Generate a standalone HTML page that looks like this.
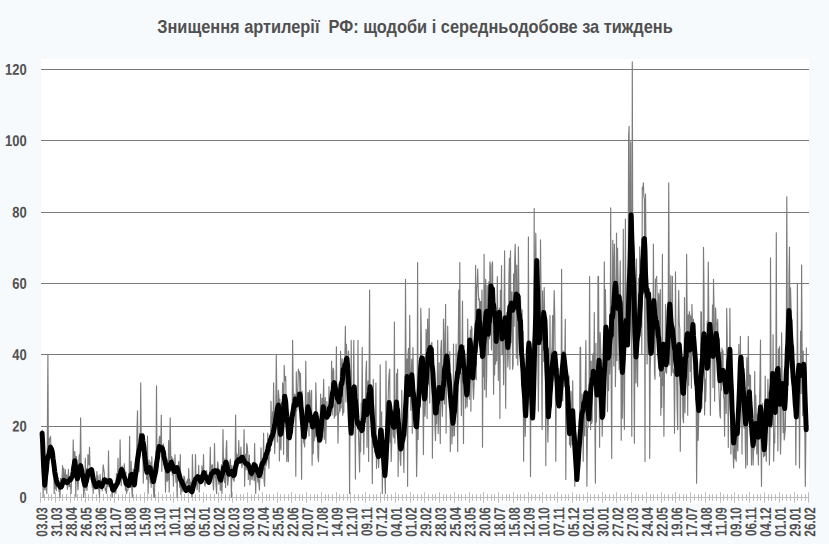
<!DOCTYPE html><html><head><meta charset="utf-8"><title>chart</title><style>html,body{margin:0;padding:0;background:#f7fafd;overflow:hidden}svg{display:block}text{font-family:"Liberation Sans",sans-serif;font-weight:bold;fill:#505050}</style></head><body>
<svg width="829" height="544" viewBox="0 0 829 544">
<rect x="0" y="0" width="829" height="544" fill="#f7fafd"/>
<rect x="41" y="59" width="768" height="444.5" fill="#ffffff"/>
<line x1="41" x2="809" y1="426.5" y2="426.5" stroke="#7a7a7a" stroke-width="1"/>
<line x1="41" x2="809" y1="354.5" y2="354.5" stroke="#7a7a7a" stroke-width="1"/>
<line x1="41" x2="809" y1="283.5" y2="283.5" stroke="#7a7a7a" stroke-width="1"/>
<line x1="41" x2="809" y1="212.5" y2="212.5" stroke="#7a7a7a" stroke-width="1"/>
<line x1="41" x2="809" y1="140.5" y2="140.5" stroke="#7a7a7a" stroke-width="1"/>
<line x1="41" x2="809" y1="69.5" y2="69.5" stroke="#7a7a7a" stroke-width="1"/>
<line x1="41" x2="809" y1="497.5" y2="497.5" stroke="#bcbcbc" stroke-width="1"/>
<path d="M40.50 492.3V502.6M44.50 494.2V500.8M48.50 494.2V500.8M51.50 494.2V500.8M55.50 492.3V502.6M59.50 494.2V500.8M62.50 494.2V500.8M66.50 494.2V500.8M70.50 492.3V502.6M74.50 494.2V500.8M77.50 494.2V500.8M81.50 494.2V500.8M85.50 492.3V502.6M88.50 494.2V500.8M92.50 494.2V500.8M96.50 494.2V500.8M99.50 492.3V502.6M103.50 494.2V500.8M107.50 494.2V500.8M110.50 494.2V500.8M114.50 492.3V502.6M118.50 494.2V500.8M122.50 494.2V500.8M125.50 494.2V500.8M129.50 492.3V502.6M133.50 494.2V500.8M136.50 494.2V500.8M140.50 494.2V500.8M144.50 492.3V502.6M147.50 494.2V500.8M151.50 494.2V500.8M155.50 494.2V500.8M158.50 492.3V502.6M162.50 494.2V500.8M166.50 494.2V500.8M170.50 494.2V500.8M173.50 492.3V502.6M177.50 494.2V500.8M181.50 494.2V500.8M184.50 494.2V500.8M188.50 492.3V502.6M192.50 494.2V500.8M195.50 494.2V500.8M199.50 494.2V500.8M203.50 492.3V502.6M206.50 494.2V500.8M210.50 494.2V500.8M214.50 494.2V500.8M218.50 492.3V502.6M221.50 494.2V500.8M225.50 494.2V500.8M229.50 494.2V500.8M232.50 492.3V502.6M236.50 494.2V500.8M240.50 494.2V500.8M243.50 494.2V500.8M247.50 492.3V502.6M251.50 494.2V500.8M254.50 494.2V500.8M258.50 494.2V500.8M262.50 492.3V502.6M266.50 494.2V500.8M269.50 494.2V500.8M273.50 494.2V500.8M277.50 492.3V502.6M280.50 494.2V500.8M284.50 494.2V500.8M288.50 494.2V500.8M291.50 492.3V502.6M295.50 494.2V500.8M299.50 494.2V500.8M302.50 494.2V500.8M306.50 492.3V502.6M310.50 494.2V500.8M314.50 494.2V500.8M317.50 494.2V500.8M321.50 492.3V502.6M325.50 494.2V500.8M328.50 494.2V500.8M332.50 494.2V500.8M336.50 492.3V502.6M339.50 494.2V500.8M343.50 494.2V500.8M347.50 494.2V500.8M350.50 492.3V502.6M354.50 494.2V500.8M358.50 494.2V500.8M362.50 494.2V500.8M365.50 492.3V502.6M369.50 494.2V500.8M373.50 494.2V500.8M376.50 494.2V500.8M380.50 492.3V502.6M384.50 494.2V500.8M387.50 494.2V500.8M391.50 494.2V500.8M395.50 492.3V502.6M398.50 494.2V500.8M402.50 494.2V500.8M406.50 494.2V500.8M410.50 492.3V502.6M413.50 494.2V500.8M417.50 494.2V500.8M421.50 494.2V500.8M424.50 492.3V502.6M428.50 494.2V500.8M432.50 494.2V500.8M435.50 494.2V500.8M439.50 492.3V502.6M443.50 494.2V500.8M446.50 494.2V500.8M450.50 494.2V500.8M454.50 492.3V502.6M458.50 494.2V500.8M461.50 494.2V500.8M465.50 494.2V500.8M469.50 492.3V502.6M472.50 494.2V500.8M476.50 494.2V500.8M480.50 494.2V500.8M483.50 492.3V502.6M487.50 494.2V500.8M491.50 494.2V500.8M494.50 494.2V500.8M498.50 492.3V502.6M502.50 494.2V500.8M506.50 494.2V500.8M509.50 494.2V500.8M513.50 492.3V502.6M517.50 494.2V500.8M520.50 494.2V500.8M524.50 494.2V500.8M528.50 492.3V502.6M531.50 494.2V500.8M535.50 494.2V500.8M539.50 494.2V500.8M542.50 492.3V502.6M546.50 494.2V500.8M550.50 494.2V500.8M554.50 494.2V500.8M557.50 492.3V502.6M561.50 494.2V500.8M565.50 494.2V500.8M568.50 494.2V500.8M572.50 492.3V502.6M576.50 494.2V500.8M579.50 494.2V500.8M583.50 494.2V500.8M587.50 492.3V502.6M590.50 494.2V500.8M594.50 494.2V500.8M598.50 494.2V500.8M602.50 492.3V502.6M605.50 494.2V500.8M609.50 494.2V500.8M613.50 494.2V500.8M616.50 492.3V502.6M620.50 494.2V500.8M624.50 494.2V500.8M627.50 494.2V500.8M631.50 492.3V502.6M635.50 494.2V500.8M638.50 494.2V500.8M642.50 494.2V500.8M646.50 492.3V502.6M650.50 494.2V500.8M653.50 494.2V500.8M657.50 494.2V500.8M661.50 492.3V502.6M664.50 494.2V500.8M668.50 494.2V500.8M672.50 494.2V500.8M675.50 492.3V502.6M679.50 494.2V500.8M683.50 494.2V500.8M686.50 494.2V500.8M690.50 492.3V502.6M694.50 494.2V500.8M698.50 494.2V500.8M701.50 494.2V500.8M705.50 492.3V502.6M709.50 494.2V500.8M712.50 494.2V500.8M716.50 494.2V500.8M720.50 492.3V502.6M723.50 494.2V500.8M727.50 494.2V500.8M731.50 494.2V500.8M734.50 492.3V502.6M738.50 494.2V500.8M742.50 494.2V500.8M746.50 494.2V500.8M749.50 492.3V502.6M753.50 494.2V500.8M757.50 494.2V500.8M760.50 494.2V500.8M764.50 492.3V502.6M768.50 494.2V500.8M771.50 494.2V500.8M775.50 494.2V500.8M779.50 492.3V502.6M782.50 494.2V500.8M786.50 494.2V500.8M790.50 494.2V500.8M794.50 492.3V502.6M797.50 494.2V500.8M801.50 494.2V500.8M805.50 494.2V500.8M808.50 492.3V502.6" stroke="#bcbcbc" stroke-width="1" fill="none"/>
<polyline points="42.1,429.6 42.6,438.8 43.1,497.2 43.6,463.4 44.2,486.9 44.7,489.4 45.2,490.1 45.7,477.8 46.3,474.1 46.8,493.5 47.3,445.0 47.9,354.4 48.4,460.5 48.9,458.8 49.4,438.5 50.0,438.6 50.5,436.2 51.0,447.5 51.5,452.7 52.1,451.4 52.6,460.3 53.1,458.7 53.7,465.8 54.2,493.5 54.7,468.0 55.2,488.5 55.8,482.1 56.3,490.5 56.8,476.1 57.4,476.7 57.9,481.0 58.4,483.8 58.9,491.3 59.5,488.4 60.0,497.2 60.5,478.4 61.0,482.2 61.6,484.4 62.1,476.9 62.6,465.6 63.2,485.7 63.7,468.2 64.2,481.1 64.7,484.7 65.3,469.5 65.8,478.9 66.3,481.2 66.8,474.8 67.4,489.1 67.9,481.0 68.4,469.2 69.0,486.6 69.5,486.6 70.0,484.4 70.5,485.3 71.1,493.5 71.6,478.4 72.1,469.9 72.6,481.0 73.2,439.9 73.7,463.7 74.2,452.4 74.8,451.5 75.3,459.1 75.8,496.5 76.3,456.4 76.9,461.5 77.4,480.9 77.9,490.0 78.5,479.7 79.0,457.3 79.5,454.3 80.0,470.8 80.6,417.9 81.1,462.6 81.6,478.8 82.1,482.6 82.7,476.4 83.2,479.8 83.7,497.2 84.3,489.0 84.8,490.6 85.3,458.2 85.8,488.0 86.4,468.5 86.9,490.4 87.4,485.1 87.9,454.6 88.5,457.0 89.0,464.8 89.5,447.2 90.1,470.0 90.6,471.4 91.1,479.6 91.6,470.6 92.2,487.2 92.7,480.5 93.2,493.5 93.7,484.1 94.3,488.7 94.8,485.0 95.3,489.3 95.9,480.2 96.4,482.6 96.9,471.5 97.4,485.1 98.0,475.9 98.5,488.9 99.0,489.9 99.5,497.2 100.1,474.3 100.6,484.0 101.1,484.8 101.7,483.8 102.2,490.8 102.7,474.4 103.2,464.9 103.8,469.5 104.3,472.7 104.8,485.7 105.4,490.8 105.9,488.7 106.4,493.5 106.9,482.9 107.5,483.0 108.0,486.7 108.5,450.9 109.0,483.4 109.6,485.9 110.1,480.4 110.6,489.4 111.2,489.4 111.7,490.1 112.2,497.2 112.7,485.7 113.3,486.7 113.8,489.1 114.3,491.4 114.8,484.4 115.4,490.2 115.9,493.5 116.4,474.0 117.0,473.6 117.5,485.3 118.0,458.2 118.5,481.6 119.1,473.6 119.6,481.9 120.1,439.9 120.6,467.4 121.2,485.7 121.7,473.0 122.2,466.0 122.8,471.6 123.3,471.8 123.8,474.7 124.3,463.7 124.9,474.4 125.4,490.2 125.9,472.0 126.5,493.5 127.0,491.1 127.5,490.1 128.0,490.0 128.6,473.5 129.1,481.4 129.6,436.2 130.1,485.7 130.7,487.4 131.2,461.2 131.7,485.1 132.3,497.2 132.8,478.6 133.3,468.8 133.8,483.9 134.4,482.9 134.9,479.0 135.4,478.2 135.9,479.8 136.5,469.7 137.0,428.8 137.5,410.9 138.1,467.2 138.6,450.3 139.1,471.8 139.6,433.4 140.2,456.8 140.7,382.9 141.2,440.8 141.7,446.8 142.3,440.3 142.8,449.8 143.3,483.2 143.9,440.2 144.4,459.1 144.9,446.5 145.4,451.4 146.0,451.9 146.5,478.7 147.0,479.6 147.5,436.2 148.1,493.5 148.6,470.1 149.1,460.0 149.7,475.5 150.2,483.1 150.7,462.2 151.2,487.2 151.8,456.8 152.3,475.4 152.8,466.6 153.4,488.6 153.9,496.5 154.4,497.2 154.9,475.6 155.5,471.4 156.0,467.6 156.5,385.9 157.0,467.6 157.6,467.4 158.1,466.7 158.6,448.1 159.2,439.2 159.7,436.2 160.2,449.3 160.7,449.8 161.3,415.0 161.8,471.5 162.3,445.5 162.8,446.5 163.4,444.1 163.9,464.5 164.4,461.5 165.0,455.0 165.5,492.1 166.0,472.6 166.5,467.8 167.1,481.5 167.6,470.7 168.1,479.9 168.6,440.6 169.2,492.1 169.7,459.9 170.2,417.9 170.8,458.0 171.3,459.3 171.8,456.7 172.3,475.1 172.9,458.7 173.4,486.2 173.9,468.6 174.5,471.0 175.0,454.6 175.5,472.1 176.0,482.3 176.6,469.0 177.1,497.2 177.6,478.6 178.1,469.5 178.7,461.6 179.2,470.1 179.7,487.2 180.3,454.6 180.8,494.3 181.3,490.5 181.8,489.6 182.4,483.3 182.9,491.8 183.4,486.9 183.9,476.0 184.5,477.3 185.0,482.6 185.5,491.2 186.1,485.3 186.6,481.7 187.1,482.4 187.6,479.3 188.2,487.4 188.7,468.5 189.2,491.4 189.7,479.1 190.3,489.7 190.8,484.4 191.3,482.2 191.9,497.2 192.4,454.6 192.9,478.1 193.4,477.8 194.0,486.5 194.5,477.5 195.0,487.3 195.5,454.6 196.1,484.9 196.6,481.1 197.1,489.8 197.7,482.9 198.2,481.5 198.7,465.3 199.2,492.1 199.8,482.8 200.3,478.2 200.8,477.2 201.4,482.6 201.9,465.9 202.4,481.6 202.9,481.9 203.5,454.6 204.0,479.4 204.5,483.5 205.0,486.2 205.6,481.7 206.1,482.9 206.6,470.4 207.2,478.9 207.7,483.3 208.2,482.9 208.7,482.0 209.3,479.3 209.8,469.9 210.3,447.2 210.8,482.5 211.4,475.2 211.9,465.0 212.4,464.8 213.0,481.7 213.5,489.9 214.0,477.7 214.5,443.5 215.1,477.1 215.6,475.7 216.1,486.2 216.6,493.5 217.2,470.2 217.7,461.9 218.2,466.4 218.8,484.2 219.3,479.5 219.8,471.8 220.3,490.3 220.9,490.0 221.4,464.6 221.9,493.5 222.5,475.8 223.0,429.6 223.5,464.9 224.0,458.2 224.6,482.4 225.1,474.0 225.6,487.6 226.1,450.0 226.7,440.6 227.2,476.6 227.7,485.3 228.3,479.9 228.8,466.2 229.3,476.2 229.8,461.8 230.4,459.0 230.9,471.7 231.4,497.2 231.9,465.5 232.5,472.3 233.0,478.9 233.5,479.4 234.1,481.3 234.6,474.6 235.1,466.9 235.6,415.0 236.2,464.8 236.7,453.9 237.2,455.4 237.7,461.2 238.3,460.2 238.8,440.6 239.3,461.2 239.9,462.5 240.4,458.7 240.9,447.0 241.4,462.3 242.0,467.8 242.5,461.8 243.0,456.7 243.5,464.0 244.1,429.6 244.6,486.2 245.1,463.3 245.7,454.2 246.2,469.8 246.7,443.5 247.2,445.8 247.8,453.7 248.3,479.4 248.8,462.7 249.4,455.0 249.9,484.7 250.4,475.5 250.9,476.8 251.5,475.3 252.0,479.8 252.5,476.8 253.0,468.4 253.6,472.4 254.1,480.5 254.6,443.5 255.2,475.5 255.7,493.5 256.2,467.2 256.7,476.7 257.3,468.5 257.8,482.1 258.3,478.6 258.8,482.4 259.4,489.9 259.9,477.5 260.4,477.1 261.0,447.9 261.5,467.1 262.0,478.5 262.5,459.8 263.1,470.3 263.6,433.2 264.1,481.5 264.6,486.2 265.2,460.4 265.7,460.4 266.2,465.3 266.8,461.7 267.3,451.4 267.8,433.2 268.3,454.1 268.9,468.2 269.4,445.0 269.9,439.4 270.5,450.9 271.0,401.3 271.5,428.8 272.0,436.7 272.6,411.9 273.1,425.6 273.6,382.9 274.1,416.7 274.7,453.5 275.2,434.6 275.7,419.3 276.3,355.0 276.8,393.2 277.3,442.0 277.8,416.0 278.4,390.3 278.9,396.9 279.4,460.9 279.9,399.0 280.5,445.8 281.0,450.0 281.5,402.5 282.1,423.4 282.6,382.9 283.1,386.7 283.6,454.3 284.2,365.3 284.7,380.6 285.2,378.4 285.7,376.3 286.3,415.7 286.8,461.6 287.3,434.3 287.9,452.9 288.4,461.6 288.9,416.7 289.4,430.4 290.0,417.5 290.5,412.5 291.0,425.4 291.5,423.3 292.1,429.0 292.6,340.3 293.1,385.8 293.7,408.1 294.2,400.5 294.7,394.1 295.2,397.9 295.8,476.3 296.3,371.9 296.8,410.8 297.4,401.3 297.9,385.9 298.4,369.0 298.9,373.1 299.5,371.6 300.0,396.2 300.5,373.6 301.0,411.3 301.6,479.3 302.1,391.0 302.6,419.4 303.2,424.5 303.7,442.7 304.2,443.3 304.7,446.9 305.3,413.0 305.8,361.2 306.3,418.5 306.8,430.8 307.4,418.1 307.9,392.4 308.4,393.2 309.0,435.9 309.5,390.3 310.0,393.8 310.5,416.1 311.1,411.0 311.6,390.3 312.1,465.3 312.6,419.4 313.2,453.7 313.7,415.9 314.2,440.8 314.8,418.9 315.3,437.1 315.8,382.9 316.3,401.5 316.9,425.4 317.4,435.6 317.9,456.5 318.5,461.6 319.0,438.5 319.5,439.9 320.0,439.3 320.6,394.0 321.1,424.9 321.6,432.1 322.1,398.3 322.7,437.4 323.2,398.7 323.7,379.3 324.3,439.4 324.8,407.1 325.3,397.6 325.8,443.2 326.4,415.3 326.9,401.5 327.4,415.6 327.9,414.4 328.5,414.2 329.0,386.6 329.5,415.6 330.1,414.2 330.6,407.1 331.1,411.2 331.6,361.2 332.2,414.9 332.7,373.9 333.2,368.2 333.7,370.3 334.3,418.2 334.8,405.0 335.3,415.9 335.9,389.0 336.4,346.9 336.9,414.9 337.4,394.9 338.0,443.2 338.5,412.8 339.0,413.2 339.5,381.3 340.1,411.0 340.6,351.3 341.1,407.9 341.7,364.5 342.2,358.7 342.7,415.3 343.2,411.3 343.8,412.2 344.3,363.1 344.8,363.0 345.4,326.2 345.9,402.1 346.4,344.2 346.9,357.0 347.5,356.7 348.0,370.9 348.5,351.0 349.0,390.7 349.6,493.5 350.1,413.6 350.6,433.1 351.2,340.3 351.7,419.3 352.2,395.8 352.7,409.1 353.3,384.1 353.8,340.3 354.3,410.1 354.8,391.7 355.4,479.1 355.9,389.3 356.4,390.5 357.0,409.0 357.5,427.2 358.0,340.3 358.5,435.1 359.1,454.5 359.6,472.0 360.1,428.4 360.6,451.6 361.2,403.2 361.7,423.0 362.2,347.4 362.8,427.3 363.3,427.0 363.8,454.3 364.3,416.4 364.9,404.1 365.4,422.4 365.9,373.1 366.5,361.2 367.0,447.2 367.5,387.7 368.0,380.8 368.6,461.5 369.1,377.7 369.6,290.1 370.1,406.1 370.7,400.6 371.2,412.3 371.7,405.0 372.3,483.6 372.8,421.5 373.3,379.3 373.8,428.1 374.4,437.3 374.9,451.8 375.4,432.1 375.9,383.1 376.5,468.5 377.0,445.1 377.5,455.6 378.1,455.0 378.6,467.6 379.1,454.2 379.6,456.5 380.2,364.7 380.7,432.6 381.2,430.6 381.7,411.8 382.3,493.5 382.8,460.5 383.3,438.0 383.9,469.3 384.4,467.5 384.9,479.2 385.4,493.5 386.0,361.0 386.5,447.8 387.0,458.2 387.5,422.0 388.1,402.8 388.6,383.8 389.1,374.4 389.7,369.1 390.2,442.4 390.7,420.8 391.2,461.5 391.8,439.4 392.3,410.2 392.8,410.6 393.4,435.5 393.9,438.0 394.4,322.1 394.9,443.3 395.5,419.9 396.0,414.4 396.5,373.5 397.0,400.0 397.6,369.1 398.1,476.5 398.6,423.3 399.2,430.8 399.7,434.0 400.2,459.6 400.7,465.4 401.3,441.2 401.8,390.4 402.3,430.6 402.8,440.0 403.4,448.0 403.9,472.5 404.4,421.4 405.0,416.8 405.5,279.4 406.0,361.9 406.5,389.3 407.1,359.1 407.6,486.3 408.1,353.3 408.6,348.4 409.2,392.6 409.7,315.4 410.2,374.4 410.8,410.3 411.3,373.5 411.8,359.2 412.3,433.2 412.9,347.5 413.4,376.4 413.9,399.8 414.5,425.9 415.0,409.6 415.5,425.4 416.0,413.9 416.6,476.5 417.1,449.8 417.6,262.5 418.1,439.4 418.7,380.7 419.2,390.0 419.7,387.1 420.3,406.1 420.8,308.4 421.3,333.1 421.8,375.4 422.4,389.1 422.9,390.5 423.4,454.6 423.9,393.5 424.5,402.9 425.0,416.2 425.5,400.0 426.1,329.4 426.6,338.2 427.1,418.5 427.6,319.1 428.2,384.0 428.7,340.8 429.2,308.4 429.7,403.0 430.3,351.2 430.8,345.2 431.3,343.8 431.9,342.5 432.4,458.2 432.9,395.3 433.4,384.2 434.0,392.3 434.5,393.6 435.0,426.3 435.5,440.6 436.1,410.2 436.6,423.8 437.1,401.5 437.7,340.4 438.2,433.5 438.7,405.0 439.2,362.7 439.8,415.1 440.3,443.5 440.8,350.5 441.4,340.4 441.9,405.1 442.4,416.2 442.9,393.6 443.5,319.1 444.0,336.0 444.5,404.0 445.0,370.3 445.6,304.4 446.1,433.2 446.6,358.0 447.2,381.3 447.7,326.2 448.2,368.3 448.7,356.3 449.3,369.0 449.8,351.5 450.3,451.6 450.8,390.0 451.4,402.1 451.9,443.9 452.4,410.1 453.0,436.3 453.5,344.1 454.0,415.0 454.5,435.6 455.1,385.2 455.6,401.4 456.1,344.1 456.6,387.3 457.2,411.7 457.7,451.6 458.2,346.5 458.8,290.0 459.3,378.3 459.8,262.5 460.3,372.5 460.9,372.3 461.4,415.6 461.9,366.9 462.5,301.2 463.0,384.0 463.5,443.5 464.0,345.4 464.6,356.0 465.1,366.6 465.6,408.2 466.1,391.3 466.7,384.1 467.2,406.8 467.7,319.1 468.3,374.0 468.8,376.6 469.3,399.2 469.8,355.9 470.4,330.1 470.9,411.2 471.4,326.2 471.9,328.8 472.5,370.8 473.0,386.7 473.5,399.3 474.1,384.8 474.6,346.8 475.1,328.6 475.6,265.4 476.2,379.9 476.7,288.4 477.2,283.7 477.7,269.1 478.3,292.0 478.8,300.1 479.3,298.8 479.9,344.1 480.4,301.6 480.9,301.6 481.4,328.0 482.0,290.0 482.5,447.2 483.0,357.0 483.5,376.7 484.1,254.4 484.6,389.6 485.1,291.7 485.7,279.4 486.2,397.2 486.7,372.2 487.2,285.5 487.8,325.7 488.3,354.8 488.8,281.8 489.4,338.8 489.9,261.9 490.4,266.8 490.9,309.7 491.5,350.0 492.0,264.2 492.5,261.9 493.0,309.6 493.6,394.3 494.1,330.9 494.6,375.0 495.2,311.4 495.7,364.1 496.2,315.4 496.7,360.8 497.3,276.6 497.8,318.8 498.3,380.4 498.8,336.8 499.4,308.1 499.9,418.5 500.4,290.2 501.0,337.1 501.5,265.6 502.0,353.4 502.5,354.7 503.1,328.4 503.6,384.8 504.1,307.3 504.6,250.9 505.2,358.7 505.7,408.2 506.2,318.6 506.8,312.5 507.3,331.3 507.8,366.9 508.3,356.4 508.9,279.5 509.4,258.2 509.9,369.3 510.5,250.9 511.0,342.8 511.5,293.4 512.0,291.9 512.6,369.3 513.1,365.1 513.6,273.9 514.1,326.3 514.7,261.2 515.2,244.3 515.7,276.3 516.3,358.3 516.8,265.1 517.3,338.0 517.8,365.1 518.4,246.8 518.9,290.4 519.4,338.0 519.9,315.5 520.5,296.0 521.0,367.1 521.5,350.4 522.1,309.8 522.6,365.5 523.1,331.2 523.6,461.2 524.2,376.2 524.7,403.3 525.2,436.2 525.7,417.1 526.3,369.1 526.8,350.4 527.3,413.0 527.9,389.6 528.4,236.9 528.9,374.1 529.4,363.2 530.0,379.1 530.5,476.6 531.0,371.4 531.5,407.0 532.1,406.6 532.6,415.2 533.1,372.2 533.7,392.0 534.2,208.2 534.7,400.6 535.2,289.6 535.8,233.2 536.3,281.8 536.8,314.5 537.4,259.2 537.9,359.2 538.4,411.2 538.9,354.9 539.5,318.3 540.0,339.8 540.5,239.9 541.0,289.9 541.6,365.4 542.1,429.6 542.6,290.8 543.2,325.5 543.7,361.4 544.2,287.6 544.7,319.7 545.3,354.1 545.8,465.6 546.3,340.7 546.8,319.6 547.4,418.2 547.9,442.1 548.4,415.1 549.0,404.1 549.5,400.5 550.0,315.6 550.5,400.9 551.1,356.6 551.6,352.9 552.1,347.4 552.6,315.6 553.2,380.7 553.7,318.4 554.2,290.6 554.8,317.3 555.3,372.9 555.8,461.2 556.3,381.3 556.9,361.2 557.4,390.7 557.9,396.7 558.5,368.3 559.0,392.4 559.5,401.5 560.0,382.9 560.6,391.4 561.1,398.8 561.6,269.3 562.1,396.4 562.7,400.9 563.2,351.0 563.7,356.0 564.3,351.8 564.8,355.1 565.3,319.3 565.8,479.6 566.4,378.6 566.9,382.4 567.4,380.1 567.9,397.3 568.5,422.9 569.0,375.9 569.5,444.7 570.1,403.1 570.6,447.2 571.1,391.4 571.6,436.6 572.2,445.0 572.7,380.8 573.2,424.0 573.7,438.7 574.3,433.8 574.8,486.2 575.3,435.1 575.9,462.9 576.4,472.5 576.9,479.4 577.4,466.5 578.0,464.7 578.5,452.8 579.0,453.1 579.5,436.4 580.1,347.2 580.6,347.2 581.1,425.6 581.7,430.7 582.2,394.0 582.7,409.2 583.2,461.2 583.8,408.1 584.3,431.7 584.8,436.0 585.4,373.9 585.9,340.6 586.4,418.4 586.9,486.2 587.5,426.5 588.0,427.4 588.5,400.7 589.0,401.1 589.6,276.6 590.1,380.2 590.6,429.6 591.2,361.1 591.7,423.4 592.2,421.0 592.7,356.1 593.3,353.3 593.8,381.4 594.3,312.6 594.8,412.9 595.4,483.2 595.9,343.2 596.4,422.3 597.0,380.2 597.5,394.3 598.0,276.6 598.5,276.3 599.1,370.7 599.6,447.2 600.1,332.5 600.6,346.0 601.2,365.0 601.7,390.1 602.2,436.2 602.8,411.8 603.3,407.6 603.8,387.8 604.3,261.9 604.9,331.9 605.4,289.5 605.9,322.1 606.5,351.0 607.0,360.3 607.5,411.6 608.0,350.5 608.6,390.6 609.1,352.6 609.6,374.0 610.1,363.1 610.7,207.9 611.2,383.6 611.7,458.5 612.3,300.4 612.8,240.3 613.3,266.8 613.8,366.0 614.4,244.0 614.9,289.2 615.4,386.6 615.9,350.8 616.5,233.2 617.0,360.8 617.5,248.0 618.1,280.6 618.6,329.0 619.1,369.5 619.6,306.6 620.2,260.9 620.7,305.0 621.2,440.3 621.7,326.3 622.3,418.2 622.8,345.1 623.3,229.3 623.9,400.9 624.4,429.3 624.9,333.4 625.4,219.0 626.0,315.9 626.5,328.3 627.0,338.5 627.5,341.8 628.1,323.6 628.6,136.6 629.1,126.3 629.7,260.0 630.2,255.2 630.7,141.9 631.2,300.0 631.8,436.2 632.3,61.9 632.8,263.0 633.4,324.0 633.9,364.1 634.4,443.2 634.9,341.2 635.5,289.0 636.0,382.9 636.5,258.7 637.0,342.4 637.6,386.6 638.1,329.2 638.6,278.3 639.2,322.5 639.7,246.9 640.2,308.6 640.7,314.3 641.3,249.8 641.8,353.9 642.3,187.4 642.8,189.5 643.4,182.9 643.9,197.3 644.4,198.9 645.0,461.5 645.5,194.0 646.0,248.1 646.5,289.3 647.1,364.0 647.6,331.1 648.1,289.6 648.6,304.0 649.2,304.5 649.7,458.5 650.2,368.9 650.8,351.7 651.3,303.6 651.8,343.4 652.3,298.4 652.9,353.1 653.4,244.0 653.9,313.8 654.5,373.3 655.0,379.3 655.5,279.3 656.0,280.1 656.6,276.3 657.1,294.1 657.6,347.4 658.1,312.3 658.7,293.4 659.2,296.9 659.7,376.2 660.3,289.6 660.8,415.3 661.3,379.3 661.8,407.5 662.4,254.3 662.9,385.5 663.4,344.8 663.9,436.2 664.5,372.7 665.0,372.3 665.5,304.3 666.1,370.9 666.6,373.3 667.1,355.5 667.6,324.3 668.2,307.4 668.7,182.9 669.2,276.0 669.7,365.1 670.3,336.0 670.8,275.7 671.3,375.6 671.9,362.5 672.4,276.3 672.9,372.7 673.4,369.1 674.0,373.6 674.5,433.2 675.0,371.3 675.5,271.9 676.1,369.5 676.6,373.6 677.1,406.1 677.7,429.6 678.2,319.7 678.7,290.3 679.2,322.7 679.8,328.8 680.3,451.3 680.8,373.6 681.4,372.6 681.9,358.3 682.4,373.0 682.9,417.3 683.5,422.6 684.0,387.5 684.5,297.6 685.0,412.7 685.6,335.9 686.1,371.9 686.6,254.3 687.2,322.9 687.7,415.3 688.2,314.9 688.7,385.3 689.3,311.6 689.8,315.4 690.3,371.3 690.8,316.1 691.4,388.1 691.9,304.3 692.4,320.2 693.0,337.2 693.5,319.3 694.0,351.2 694.5,328.6 695.1,380.7 695.6,365.4 696.1,379.8 696.6,483.2 697.2,420.7 697.7,398.1 698.2,440.3 698.8,413.6 699.3,407.6 699.8,407.6 700.3,412.1 700.9,311.6 701.4,312.1 701.9,408.3 702.5,348.9 703.0,371.6 703.5,247.4 704.0,287.2 704.6,415.0 705.1,379.2 705.6,401.5 706.1,386.2 706.7,342.1 707.2,321.1 707.7,346.7 708.3,262.1 708.8,315.5 709.3,359.2 709.8,340.9 710.4,415.3 710.9,342.5 711.4,334.1 711.9,352.4 712.5,305.0 713.0,387.5 713.5,279.3 714.1,310.8 714.6,401.3 715.1,347.5 715.6,307.9 716.2,323.8 716.7,323.6 717.2,344.6 717.7,319.4 718.3,352.8 718.8,387.8 719.3,398.3 719.9,415.0 720.4,417.9 720.9,352.5 721.4,390.3 722.0,348.1 722.5,378.6 723.0,350.7 723.5,395.8 724.1,399.6 724.6,436.3 725.1,370.4 725.7,396.9 726.2,413.5 726.7,308.4 727.2,339.2 727.8,385.4 728.3,447.4 728.8,364.3 729.4,389.0 729.9,308.4 730.4,363.4 730.9,454.0 731.5,407.1 732.0,439.9 732.5,413.0 733.0,449.2 733.6,467.9 734.1,450.7 734.6,444.7 735.2,458.9 735.7,425.5 736.2,461.3 736.7,414.1 737.3,440.9 737.8,450.9 738.3,426.0 738.8,344.4 739.4,385.2 739.9,383.3 740.4,336.3 741.0,393.5 741.5,361.7 742.0,454.0 742.5,360.3 743.1,364.8 743.6,417.1 744.1,428.0 744.6,381.3 745.2,436.8 745.7,467.9 746.2,407.4 746.8,357.6 747.3,465.0 747.8,389.8 748.3,336.3 748.9,385.9 749.4,374.4 749.9,406.8 750.5,375.3 751.0,435.1 751.5,465.0 752.0,421.2 752.6,428.0 753.1,465.0 753.6,449.7 754.1,449.3 754.7,371.6 755.2,433.4 755.7,395.0 756.3,415.0 756.8,454.0 757.3,414.3 757.8,441.9 758.4,465.0 758.9,420.7 759.4,405.0 759.9,384.5 760.5,340.0 761.0,439.9 761.5,486.3 762.1,406.1 762.6,403.3 763.1,439.6 763.6,456.9 764.2,453.4 764.7,455.7 765.2,376.0 765.7,444.3 766.3,461.3 766.8,428.5 767.3,423.4 767.9,379.4 768.4,406.7 768.9,392.1 769.4,465.0 770.0,436.2 770.5,257.9 771.0,369.2 771.5,427.2 772.1,393.5 772.6,416.7 773.1,334.8 773.7,461.3 774.2,435.1 774.7,443.1 775.2,406.5 775.8,407.3 776.3,232.9 776.8,409.5 777.4,403.1 777.9,451.0 778.4,348.9 778.9,405.9 779.5,346.6 780.0,417.1 780.5,454.0 781.0,433.8 781.6,332.9 782.1,374.0 782.6,397.3 783.2,432.7 783.7,389.0 784.2,440.0 784.7,435.7 785.3,429.1 785.8,400.5 786.3,337.4 786.8,196.9 787.4,359.7 787.9,354.2 788.4,385.3 789.0,276.0 789.5,247.1 790.0,355.7 790.5,287.7 791.1,308.8 791.6,356.5 792.1,342.9 792.6,364.5 793.2,390.4 793.7,359.7 794.2,402.3 794.8,380.4 795.3,390.3 795.8,465.0 796.3,404.4 796.9,411.1 797.4,283.4 797.9,382.0 798.5,364.9 799.0,387.1 799.5,467.9 800.0,403.3 800.6,331.0 801.1,393.5 801.6,265.0 802.1,350.1 802.7,415.7 803.2,351.1 803.7,411.8 804.3,392.6 804.8,427.7 805.3,486.3 805.8,442.9 806.4,347.4" fill="none" stroke="#7c7c7c" stroke-width="1.15" stroke-linejoin="round"/>
<polyline points="42.1,433.2 42.6,441.9 43.1,454.5 43.6,466.0 44.2,476.4 44.7,485.2 45.2,480.4 45.7,475.6 46.3,471.0 46.8,464.7 47.3,459.5 47.9,457.6 48.4,455.5 48.9,454.5 49.4,452.1 50.0,449.2 50.5,447.1 51.0,448.5 51.5,448.8 52.1,451.2 52.6,453.9 53.1,458.8 53.7,463.0 54.2,467.0 54.7,471.3 55.2,474.6 55.8,477.2 56.3,479.8 56.8,481.9 57.4,483.1 57.9,484.3 58.4,484.5 58.9,485.4 59.5,485.7 60.0,486.7 60.5,487.2 61.0,487.1 61.6,486.4 62.1,484.4 62.6,483.3 63.2,481.4 63.7,480.3 64.2,480.9 64.7,481.0 65.3,481.5 65.8,481.9 66.3,482.0 66.8,482.5 67.4,481.8 67.9,482.1 68.4,481.0 69.0,481.0 69.5,480.4 70.0,480.0 70.5,478.7 71.1,478.5 71.6,477.3 72.1,477.0 72.6,475.5 73.2,471.6 73.7,467.5 74.2,464.6 74.8,460.8 75.3,465.0 75.8,467.5 76.3,471.6 76.9,475.3 77.4,478.8 77.9,476.7 78.5,474.4 79.0,471.8 79.5,469.3 80.0,467.3 80.6,465.6 81.1,467.9 81.6,470.2 82.1,472.8 82.7,475.3 83.2,477.7 83.7,480.0 84.3,482.6 84.8,485.3 85.3,485.1 85.8,482.7 86.4,481.3 86.9,478.6 87.4,476.6 87.9,474.4 88.5,471.3 89.0,471.8 89.5,471.4 90.1,470.5 90.6,470.6 91.1,470.2 91.6,469.6 92.2,472.6 92.7,475.6 93.2,478.6 93.7,481.3 94.3,482.7 94.8,484.2 95.3,485.0 95.9,486.5 96.4,486.7 96.9,485.6 97.4,484.5 98.0,483.9 98.5,483.4 99.0,482.7 99.5,483.8 100.1,484.1 100.6,485.3 101.1,486.3 101.7,486.6 102.2,484.7 102.7,484.1 103.2,483.2 103.8,481.6 104.3,479.7 104.8,479.7 105.4,480.4 105.9,481.5 106.4,481.4 106.9,481.6 107.5,482.0 108.0,481.3 108.5,481.6 109.0,480.6 109.6,480.4 110.1,480.7 110.6,482.7 111.2,484.3 111.7,486.0 112.2,487.5 112.7,489.6 113.3,490.1 113.8,489.2 114.3,488.5 114.8,487.5 115.4,486.8 115.9,485.8 116.4,484.8 117.0,484.0 117.5,483.1 118.0,481.5 118.5,479.3 119.1,477.5 119.6,475.3 120.1,474.7 120.6,472.9 121.2,470.4 121.7,469.5 122.2,470.5 122.8,472.6 123.3,474.0 123.8,476.2 124.3,477.1 124.9,478.7 125.4,480.2 125.9,483.2 126.5,484.1 127.0,483.8 127.5,484.3 128.0,484.0 128.6,485.4 129.1,484.9 129.6,482.7 130.1,479.8 130.7,476.5 131.2,474.5 131.7,474.3 132.3,477.2 132.8,478.2 133.3,480.6 133.8,483.2 134.4,484.8 134.9,480.0 135.4,475.8 135.9,472.8 136.5,468.8 137.0,463.8 137.5,459.9 138.1,455.9 138.6,452.6 139.1,450.0 139.6,448.8 140.2,445.4 140.7,443.9 141.2,438.8 141.7,435.8 142.3,435.8 142.8,440.6 143.3,443.3 143.9,446.8 144.4,452.7 144.9,457.4 145.4,461.5 146.0,466.3 146.5,470.2 147.0,472.3 147.5,471.8 148.1,470.8 148.6,469.6 149.1,468.4 149.7,467.7 150.2,468.3 150.7,470.6 151.2,472.5 151.8,475.4 152.3,477.1 152.8,479.4 153.4,481.7 153.9,479.5 154.4,476.5 154.9,475.1 155.5,472.0 156.0,469.0 156.5,463.8 157.0,460.7 157.6,457.3 158.1,451.9 158.6,450.9 159.2,446.6 159.7,446.9 160.2,447.5 160.7,448.9 161.3,449.4 161.8,449.8 162.3,447.9 162.8,450.5 163.4,451.6 163.9,455.9 164.4,458.8 165.0,460.2 165.5,463.0 166.0,465.1 166.5,467.6 167.1,468.7 167.6,470.9 168.1,469.9 168.6,469.8 169.2,468.1 169.7,466.1 170.2,464.9 170.8,463.5 171.3,462.1 171.8,463.4 172.3,465.0 172.9,466.2 173.4,468.3 173.9,471.2 174.5,471.5 175.0,470.6 175.5,469.8 176.0,469.3 176.6,468.8 177.1,467.6 177.6,469.4 178.1,471.4 178.7,473.0 179.2,474.9 179.7,476.9 180.3,478.7 180.8,480.4 181.3,480.4 181.8,482.1 182.4,483.1 182.9,484.2 183.4,485.4 183.9,486.6 184.5,487.5 185.0,488.5 185.5,489.5 186.1,490.5 186.6,490.2 187.1,489.5 187.6,488.8 188.2,488.2 188.7,487.7 189.2,487.8 189.7,489.0 190.3,489.7 190.8,490.4 191.3,491.4 191.9,491.9 192.4,490.3 192.9,488.2 193.4,485.6 194.0,483.5 194.5,481.5 195.0,480.4 195.5,479.8 196.1,478.4 196.6,478.5 197.1,477.3 197.7,476.6 198.2,477.1 198.7,478.1 199.2,478.6 199.8,479.8 200.3,480.6 200.8,481.7 201.4,480.7 201.9,479.6 202.4,477.1 202.9,475.1 203.5,474.2 204.0,472.6 204.5,475.0 205.0,475.6 205.6,476.2 206.1,478.0 206.6,479.0 207.2,479.2 207.7,480.4 208.2,481.4 208.7,482.4 209.3,481.1 209.8,479.2 210.3,477.7 210.8,475.7 211.4,473.8 211.9,473.5 212.4,472.8 213.0,472.5 213.5,471.4 214.0,471.7 214.5,471.9 215.1,470.8 215.6,471.8 216.1,470.9 216.6,471.2 217.2,470.8 217.7,471.0 218.2,473.3 218.8,474.5 219.3,477.1 219.8,478.0 220.3,479.9 220.9,480.1 221.4,477.2 221.9,475.2 222.5,473.5 223.0,471.5 223.5,467.7 224.0,467.5 224.6,466.9 225.1,465.1 225.6,462.9 226.1,462.1 226.7,464.8 227.2,466.8 227.7,469.8 228.3,472.3 228.8,474.2 229.3,474.3 229.8,473.2 230.4,472.1 230.9,472.7 231.4,471.2 231.9,472.0 232.5,473.4 233.0,474.6 233.5,475.5 234.1,475.3 234.6,473.6 235.1,469.6 235.6,467.0 236.2,465.0 236.7,462.0 237.2,461.7 237.7,461.7 238.3,459.9 238.8,460.6 239.3,461.3 239.9,461.2 240.4,460.9 240.9,459.4 241.4,457.9 242.0,457.2 242.5,457.3 243.0,458.8 243.5,460.2 244.1,460.7 244.6,461.6 245.1,462.2 245.7,463.5 246.2,463.8 246.7,463.7 247.2,463.8 247.8,463.9 248.3,464.8 248.8,466.6 249.4,467.2 249.9,469.1 250.4,470.3 250.9,472.5 251.5,473.4 252.0,471.9 252.5,470.5 253.0,469.3 253.6,466.4 254.1,464.6 254.6,465.1 255.2,465.3 255.7,467.5 256.2,468.3 256.7,469.9 257.3,470.4 257.8,472.5 258.3,472.9 258.8,473.6 259.4,475.7 259.9,473.9 260.4,472.8 261.0,468.9 261.5,466.0 262.0,463.9 262.5,464.0 263.1,462.2 263.6,461.7 264.1,461.0 264.6,459.2 265.2,458.7 265.7,456.3 266.2,453.9 266.8,453.7 267.3,451.7 267.8,449.3 268.3,446.5 268.9,443.9 269.4,444.7 269.9,442.6 270.5,439.5 271.0,439.6 271.5,436.5 272.0,436.6 272.6,435.0 273.1,433.1 273.6,430.9 274.1,428.7 274.7,424.9 275.2,423.8 275.7,419.6 276.3,415.9 276.8,412.5 277.3,409.0 277.8,406.7 278.4,405.0 278.9,415.7 279.4,420.9 279.9,430.1 280.5,434.4 281.0,433.6 281.5,430.4 282.1,423.7 282.6,420.2 283.1,411.6 283.6,407.5 284.2,401.9 284.7,396.3 285.2,398.7 285.7,401.9 286.3,411.0 286.8,417.0 287.3,420.7 287.9,424.8 288.4,431.6 288.9,437.2 289.4,437.7 290.0,434.2 290.5,432.2 291.0,425.4 291.5,422.4 292.1,416.8 292.6,414.7 293.1,411.0 293.7,407.1 294.2,404.0 294.7,404.7 295.2,399.1 295.8,400.2 296.3,405.2 296.8,402.3 297.4,400.4 297.9,402.7 298.4,398.5 298.9,401.2 299.5,394.1 300.0,394.2 300.5,398.2 301.0,406.9 301.6,411.0 302.1,418.2 302.6,423.5 303.2,429.1 303.7,436.6 304.2,436.9 304.7,431.9 305.3,426.7 305.8,422.4 306.3,420.2 306.8,419.3 307.4,411.1 307.9,406.8 308.4,409.0 309.0,410.5 309.5,412.8 310.0,416.0 310.5,420.4 311.1,420.5 311.6,421.9 312.1,422.5 312.6,427.0 313.2,424.7 313.7,420.3 314.2,417.7 314.8,416.4 315.3,415.2 315.8,413.6 316.3,417.0 316.9,420.2 317.4,425.1 317.9,428.7 318.5,435.2 319.0,435.4 319.5,440.3 320.0,439.3 320.6,432.5 321.1,429.5 321.6,422.5 322.1,417.6 322.7,411.6 323.2,406.8 323.7,408.4 324.3,414.4 324.8,412.9 325.3,413.8 325.8,415.3 326.4,415.6 326.9,417.3 327.4,416.3 327.9,414.8 328.5,415.0 329.0,411.2 329.5,408.0 330.1,408.0 330.6,405.8 331.1,406.0 331.6,399.6 332.2,394.7 332.7,391.8 333.2,391.2 333.7,383.9 334.3,382.7 334.8,384.7 335.3,387.6 335.9,391.1 336.4,394.2 336.9,390.8 337.4,398.6 338.0,398.4 338.5,399.9 339.0,401.9 339.5,394.3 340.1,395.5 340.6,390.7 341.1,383.9 341.7,384.1 342.2,381.7 342.7,377.0 343.2,369.5 343.8,371.4 344.3,369.3 344.8,364.7 345.4,369.2 345.9,361.9 346.4,359.0 346.9,358.4 347.5,365.0 348.0,372.9 348.5,382.5 349.0,390.7 349.6,401.7 350.1,415.0 350.6,425.9 351.2,433.3 351.7,422.6 352.2,414.8 352.7,403.9 353.3,395.4 353.8,387.7 354.3,386.9 354.8,399.2 355.4,400.0 355.9,405.3 356.4,409.7 357.0,418.5 357.5,423.5 358.0,424.0 358.5,422.9 359.1,425.2 359.6,427.8 360.1,427.5 360.6,427.8 361.2,429.0 361.7,430.6 362.2,429.9 362.8,423.6 363.3,419.1 363.8,417.8 364.3,411.1 364.9,401.0 365.4,405.1 365.9,407.4 366.5,409.9 367.0,414.5 367.5,409.7 368.0,404.4 368.6,399.0 369.1,394.2 369.6,391.6 370.1,386.7 370.7,390.0 371.2,399.2 371.7,406.0 372.3,415.9 372.8,422.4 373.3,430.6 373.8,436.2 374.4,436.7 374.9,441.8 375.4,444.1 375.9,446.8 376.5,447.8 377.0,451.5 377.5,453.4 378.1,456.0 378.6,456.6 379.1,450.8 379.6,443.8 380.2,436.9 380.7,430.0 381.2,430.1 381.7,438.3 382.3,443.4 382.8,447.8 383.3,455.4 383.9,462.7 384.4,469.6 384.9,475.5 385.4,469.3 386.0,459.9 386.5,449.4 387.0,440.4 387.5,431.1 388.1,421.0 388.6,412.7 389.1,402.5 389.7,406.3 390.2,411.0 390.7,412.7 391.2,415.1 391.8,417.0 392.3,418.2 392.8,423.0 393.4,426.8 393.9,427.3 394.4,425.3 394.9,418.3 395.5,414.4 396.0,408.4 396.5,401.9 397.0,408.2 397.6,409.8 398.1,419.8 398.6,424.6 399.2,432.6 399.7,438.3 400.2,445.6 400.7,449.1 401.3,447.7 401.8,442.8 402.3,441.3 402.8,440.0 403.4,435.9 403.9,435.1 404.4,427.0 405.0,419.1 405.5,409.1 406.0,400.8 406.5,389.6 407.1,376.5 407.6,383.2 408.1,382.8 408.6,389.8 409.2,394.5 409.7,394.4 410.2,388.2 410.8,387.7 411.3,381.7 411.8,374.7 412.3,380.5 412.9,390.4 413.4,393.4 413.9,400.5 414.5,406.1 415.0,410.5 415.5,418.6 416.0,426.2 416.6,426.9 417.1,419.0 417.6,408.5 418.1,406.4 418.7,398.2 419.2,391.5 419.7,384.8 420.3,373.7 420.8,365.8 421.3,360.6 421.8,357.9 422.4,358.1 422.9,370.2 423.4,377.8 423.9,389.0 424.5,399.1 425.0,396.6 425.5,387.7 426.1,383.1 426.6,375.2 427.1,365.2 427.6,363.8 428.2,353.7 428.7,355.9 429.2,349.8 429.7,355.2 430.3,347.6 430.8,353.2 431.3,349.1 431.9,364.5 432.4,367.6 432.9,372.4 433.4,382.7 434.0,391.2 434.5,396.1 435.0,404.4 435.5,413.0 436.1,412.9 436.6,404.2 437.1,404.3 437.7,401.7 438.2,397.4 438.7,394.7 439.2,387.4 439.8,389.9 440.3,388.1 440.8,390.5 441.4,395.3 441.9,398.4 442.4,393.1 442.9,387.0 443.5,385.6 444.0,379.7 444.5,369.8 445.0,366.8 445.6,365.7 446.1,360.2 446.6,355.9 447.2,359.3 447.7,364.0 448.2,373.1 448.7,374.1 449.3,380.5 449.8,387.8 450.3,394.5 450.8,400.4 451.4,407.4 451.9,410.1 452.4,418.4 453.0,423.2 453.5,418.8 454.0,414.0 454.5,411.5 455.1,403.5 455.6,395.2 456.1,385.4 456.6,382.5 457.2,376.5 457.7,372.1 458.2,373.4 458.8,366.5 459.3,362.1 459.8,355.7 460.3,351.7 460.9,350.9 461.4,346.8 461.9,355.0 462.5,351.1 463.0,355.9 463.5,365.4 464.0,368.2 464.6,370.5 465.1,381.3 465.6,383.2 466.1,386.5 466.7,394.9 467.2,393.4 467.7,382.4 468.3,375.3 468.8,366.4 469.3,352.8 469.8,340.1 470.4,343.5 470.9,355.1 471.4,364.0 471.9,368.9 472.5,375.2 473.0,377.9 473.5,368.0 474.1,364.8 474.6,352.5 475.1,352.4 475.6,345.9 476.2,338.7 476.7,331.9 477.2,324.0 477.7,322.0 478.3,320.0 478.8,310.9 479.3,320.1 479.9,322.5 480.4,331.6 480.9,334.1 481.4,344.3 482.0,348.9 482.5,356.5 483.0,355.1 483.5,345.7 484.1,340.1 484.6,336.3 485.1,330.3 485.7,316.5 486.2,312.5 486.7,311.4 487.2,319.3 487.8,322.4 488.3,334.3 488.8,322.7 489.4,321.8 489.9,313.0 490.4,304.8 490.9,285.7 491.5,289.6 492.0,290.8 492.5,289.0 493.0,302.7 493.6,305.0 494.1,309.6 494.6,313.4 495.2,318.1 495.7,325.5 496.2,341.5 496.7,331.0 497.3,327.6 497.8,321.5 498.3,318.1 498.8,314.9 499.4,312.4 499.9,322.7 500.4,323.5 501.0,331.6 501.5,330.1 502.0,338.9 502.5,333.1 503.1,332.2 503.6,326.9 504.1,321.4 504.6,325.0 505.2,317.7 505.7,324.2 506.2,327.6 506.8,336.4 507.3,340.2 507.8,347.6 508.3,343.7 508.9,328.0 509.4,313.0 509.9,306.5 510.5,307.9 511.0,308.2 511.5,302.9 512.0,309.9 512.6,310.2 513.1,309.3 513.6,308.2 514.1,304.1 514.7,304.4 515.2,305.4 515.7,298.8 516.3,293.9 516.8,297.1 517.3,298.1 517.8,295.4 518.4,304.0 518.9,312.7 519.4,314.7 519.9,319.9 520.5,320.9 521.0,338.8 521.5,352.2 522.1,358.1 522.6,365.1 523.1,372.5 523.6,385.1 524.2,391.7 524.7,398.4 525.2,410.0 525.7,415.8 526.3,403.3 526.8,386.4 527.3,377.2 527.9,366.6 528.4,349.5 528.9,342.9 529.4,348.1 530.0,358.8 530.5,366.6 531.0,378.8 531.5,394.1 532.1,406.0 532.6,418.1 533.1,408.6 533.7,387.2 534.2,367.2 534.7,343.9 535.2,332.0 535.8,312.8 536.3,278.0 536.8,260.4 537.4,285.5 537.9,304.9 538.4,319.9 538.9,342.8 539.5,336.1 540.0,339.3 540.5,325.3 541.0,324.3 541.6,322.0 542.1,322.0 542.6,320.8 543.2,321.7 543.7,312.6 544.2,315.8 544.7,318.9 545.3,330.9 545.8,349.6 546.3,348.5 546.8,367.5 547.4,379.8 547.9,401.0 548.4,416.8 549.0,409.4 549.5,405.9 550.0,394.5 550.5,389.1 551.1,379.2 551.6,370.4 552.1,366.4 552.6,362.7 553.2,360.2 553.7,354.6 554.2,356.2 554.8,353.3 555.3,359.7 555.8,366.3 556.3,373.4 556.9,379.2 557.4,387.4 557.9,398.1 558.5,403.7 559.0,406.0 559.5,401.2 560.0,396.9 560.6,390.4 561.1,385.1 561.6,376.7 562.1,371.6 562.7,364.7 563.2,360.6 563.7,354.6 564.3,360.2 564.8,365.1 565.3,369.4 565.8,373.7 566.4,377.6 566.9,385.8 567.4,386.8 567.9,396.0 568.5,412.2 569.0,424.6 569.5,433.7 570.1,430.5 570.6,423.7 571.1,417.0 571.6,417.3 572.2,413.9 572.7,410.7 573.2,420.3 573.7,430.6 574.3,436.2 574.8,445.8 575.3,454.1 575.9,463.2 576.4,470.8 576.9,479.5 577.4,471.9 578.0,465.0 578.5,457.4 579.0,448.7 579.5,443.2 580.1,434.7 580.6,429.0 581.1,420.6 581.7,414.8 582.2,412.3 582.7,411.2 583.2,408.6 583.8,403.0 584.3,402.0 584.8,402.0 585.4,397.7 585.9,392.8 586.4,396.6 586.9,400.4 587.5,406.8 588.0,409.5 588.5,414.2 589.0,419.0 589.6,406.7 590.1,400.3 590.6,392.0 591.2,385.2 591.7,383.2 592.2,378.7 592.7,380.3 593.3,371.2 593.8,372.3 594.3,376.2 594.8,374.0 595.4,372.5 595.9,378.1 596.4,385.7 597.0,395.1 597.5,388.3 598.0,380.5 598.5,368.7 599.1,360.3 599.6,369.2 600.1,373.6 600.6,385.0 601.2,397.9 601.7,406.8 602.2,417.4 602.8,415.3 603.3,399.0 603.8,383.6 604.3,373.1 604.9,363.2 605.4,339.9 605.9,327.1 606.5,331.1 607.0,337.6 607.5,353.8 608.0,358.0 608.6,356.9 609.1,353.3 609.6,343.9 610.1,338.5 610.7,334.6 611.2,335.6 611.7,315.4 612.3,318.0 612.8,315.4 613.3,307.7 613.8,306.3 614.4,295.4 614.9,288.5 615.4,283.2 615.9,286.5 616.5,301.7 617.0,297.7 617.5,307.5 618.1,308.7 618.6,304.8 619.1,296.8 619.6,300.2 620.2,303.2 620.7,321.1 621.2,341.0 621.7,356.1 622.3,372.5 622.8,366.5 623.3,359.2 623.9,346.9 624.4,336.8 624.9,329.8 625.4,327.9 626.0,320.5 626.5,325.7 627.0,339.8 627.5,345.1 628.1,328.0 628.6,302.7 629.1,285.2 629.7,273.0 630.2,259.1 630.7,236.8 631.2,214.8 631.8,237.9 632.3,249.7 632.8,266.0 633.4,279.0 633.9,295.1 634.4,312.0 634.9,332.8 635.5,344.5 636.0,357.0 636.5,349.9 637.0,341.6 637.6,337.0 638.1,335.2 638.6,328.0 639.2,325.6 639.7,314.1 640.2,307.1 640.7,294.8 641.3,292.8 641.8,275.5 642.3,279.1 642.8,261.1 643.4,254.6 643.9,239.3 644.4,238.6 645.0,250.7 645.5,273.3 646.0,283.5 646.5,291.9 647.1,289.5 647.6,296.6 648.1,295.5 648.6,293.6 649.2,312.1 649.7,324.5 650.2,340.3 650.8,353.4 651.3,352.4 651.8,343.0 652.3,329.9 652.9,326.9 653.4,316.7 653.9,300.8 654.5,310.2 655.0,316.9 655.5,317.0 656.0,323.5 656.6,321.7 657.1,326.9 657.6,328.4 658.1,335.1 658.7,338.1 659.2,346.3 659.7,354.7 660.3,360.8 660.8,367.8 661.3,369.0 661.8,358.9 662.4,355.0 662.9,346.1 663.4,344.2 663.9,349.2 664.5,351.4 665.0,351.1 665.5,357.9 666.1,364.8 666.6,362.0 667.1,355.0 667.6,345.4 668.2,335.9 668.7,324.1 669.2,310.4 669.7,303.9 670.3,310.6 670.8,319.6 671.3,324.5 671.9,326.8 672.4,329.1 672.9,334.2 673.4,338.8 674.0,344.8 674.5,348.9 675.0,347.9 675.5,359.7 676.1,363.6 676.6,367.0 677.1,374.6 677.7,372.3 678.2,361.7 678.7,347.5 679.2,344.4 679.8,352.4 680.3,357.7 680.8,360.9 681.4,372.6 681.9,380.0 682.4,385.7 682.9,393.0 683.5,393.3 684.0,383.3 684.5,376.6 685.0,365.3 685.6,357.3 686.1,356.3 686.6,340.3 687.2,334.2 687.7,333.6 688.2,343.0 688.7,349.3 689.3,349.9 689.8,350.0 690.3,339.8 690.8,342.8 691.4,334.8 691.9,333.9 692.4,331.3 693.0,324.5 693.5,335.9 694.0,341.7 694.5,348.5 695.1,356.4 695.6,363.1 696.1,376.1 696.6,383.1 697.2,387.3 697.7,398.9 698.2,404.2 698.8,410.4 699.3,406.4 699.8,393.7 700.3,390.0 700.9,379.7 701.4,373.0 701.9,363.8 702.5,357.2 703.0,346.8 703.5,339.1 704.0,333.8 704.6,341.9 705.1,343.4 705.6,352.9 706.1,359.7 706.7,361.4 707.2,368.3 707.7,366.6 708.3,356.3 708.8,347.1 709.3,334.6 709.8,324.2 710.4,331.1 710.9,336.1 711.4,340.8 711.9,346.2 712.5,343.8 713.0,356.5 713.5,355.3 714.1,349.5 714.6,346.3 715.1,344.3 715.6,341.4 716.2,333.6 716.7,337.3 717.2,339.1 717.7,350.6 718.3,356.6 718.8,362.5 719.3,372.2 719.9,380.7 720.4,378.2 720.9,373.3 721.4,377.6 722.0,372.6 722.5,372.4 723.0,370.4 723.5,372.1 724.1,376.7 724.6,380.1 725.1,383.8 725.7,388.4 726.2,392.1 726.7,389.0 727.2,380.1 727.8,375.1 728.3,369.1 728.8,362.0 729.4,357.4 729.9,349.3 730.4,367.1 730.9,380.2 731.5,391.5 732.0,407.6 732.5,416.9 733.0,431.7 733.6,443.1 734.1,438.6 734.6,435.4 735.2,433.2 735.7,428.7 736.2,430.2 736.7,433.2 737.3,433.6 737.8,425.2 738.3,414.0 738.8,404.2 739.4,390.3 739.9,376.0 740.4,361.3 741.0,357.3 741.5,367.9 742.0,369.2 742.5,375.2 743.1,388.5 743.6,394.3 744.1,402.5 744.6,410.3 745.2,417.2 745.7,424.1 746.2,420.1 746.8,414.6 747.3,408.4 747.8,406.3 748.3,399.6 748.9,396.1 749.4,391.7 749.9,402.3 750.5,410.2 751.0,418.7 751.5,424.7 752.0,433.0 752.6,439.7 753.1,445.5 753.6,441.3 754.1,437.5 754.7,431.6 755.2,426.3 755.7,423.5 756.3,424.2 756.8,426.7 757.3,431.4 757.8,434.8 758.4,437.2 758.9,433.5 759.4,424.7 759.9,414.6 760.5,407.0 761.0,410.7 761.5,418.6 762.1,425.3 762.6,430.7 763.1,438.0 763.6,442.6 764.2,449.7 764.7,444.5 765.2,433.8 765.7,424.8 766.3,410.8 766.8,401.0 767.3,404.1 767.9,411.8 768.4,417.4 768.9,418.9 769.4,423.2 770.0,424.6 770.5,413.8 771.0,405.2 771.5,392.9 772.1,386.5 772.6,373.4 773.1,373.8 773.7,387.2 774.2,397.8 774.7,410.8 775.2,412.4 775.8,400.2 776.3,392.2 776.8,381.5 777.4,369.8 777.9,368.6 778.4,378.0 778.9,384.5 779.5,392.4 780.0,404.3 780.5,401.3 781.0,395.3 781.6,392.3 782.1,383.6 782.6,387.9 783.2,392.3 783.7,401.1 784.2,406.1 784.7,408.5 785.3,399.4 785.8,385.6 786.3,371.6 786.8,366.6 787.4,349.0 787.9,343.0 788.4,325.5 789.0,310.6 789.5,318.4 790.0,320.5 790.5,333.6 791.1,344.2 791.6,347.0 792.1,360.1 792.6,368.1 793.2,377.5 793.7,382.9 794.2,387.3 794.8,396.5 795.3,404.5 795.8,409.5 796.3,416.9 796.9,403.6 797.4,392.7 797.9,381.9 798.5,369.9 799.0,365.3 799.5,367.5 800.0,370.3 800.6,373.1 801.1,374.9 801.6,373.5 802.1,375.5 802.7,374.3 803.2,368.2 803.7,364.3 804.3,371.9 804.8,390.2 805.3,404.1 805.8,418.1 806.2,429.7" fill="none" stroke="#000" stroke-width="5.0" stroke-linejoin="round" stroke-linecap="round"/>
<text transform="translate(415,32.8) rotate(0.02) scale(0.910,1)" text-anchor="middle" fill="#555555" font-size="18.0">Знищення артилерії&#160; РФ: щодоби і середньодобове за тиждень</text>
<text transform="translate(26.7,502.8) rotate(0.05) scale(0.838,1)" text-anchor="end" font-size="15.5">0</text>
<text transform="translate(26.7,431.4) rotate(0.05) scale(0.838,1)" text-anchor="end" font-size="15.5">20</text>
<text transform="translate(26.7,360.1) rotate(0.05) scale(0.838,1)" text-anchor="end" font-size="15.5">40</text>
<text transform="translate(26.7,288.8) rotate(0.05) scale(0.838,1)" text-anchor="end" font-size="15.5">60</text>
<text transform="translate(26.7,217.4) rotate(0.05) scale(0.838,1)" text-anchor="end" font-size="15.5">80</text>
<text transform="translate(26.7,146.0) rotate(0.05) scale(0.838,1)" text-anchor="end" font-size="15.5">100</text>
<text transform="translate(26.7,74.7) rotate(0.05) scale(0.838,1)" text-anchor="end" font-size="15.5">120</text>
<text transform="translate(47.20,507.2) rotate(-90.05) scale(0.755,1)" text-anchor="end" font-size="15.6">03.03</text>
<text transform="translate(61.97,507.2) rotate(-90.05) scale(0.755,1)" text-anchor="end" font-size="15.6">31.03</text>
<text transform="translate(76.74,507.2) rotate(-90.05) scale(0.755,1)" text-anchor="end" font-size="15.6">28.04</text>
<text transform="translate(91.51,507.2) rotate(-90.05) scale(0.755,1)" text-anchor="end" font-size="15.6">26.05</text>
<text transform="translate(106.28,507.2) rotate(-90.05) scale(0.755,1)" text-anchor="end" font-size="15.6">23.06</text>
<text transform="translate(121.05,507.2) rotate(-90.05) scale(0.755,1)" text-anchor="end" font-size="15.6">21.07</text>
<text transform="translate(135.82,507.2) rotate(-90.05) scale(0.755,1)" text-anchor="end" font-size="15.6">18.08</text>
<text transform="translate(150.58,507.2) rotate(-90.05) scale(0.755,1)" text-anchor="end" font-size="15.6">15.09</text>
<text transform="translate(165.35,507.2) rotate(-90.05) scale(0.755,1)" text-anchor="end" font-size="15.6">13.10</text>
<text transform="translate(180.12,507.2) rotate(-90.05) scale(0.755,1)" text-anchor="end" font-size="15.6">10.11</text>
<text transform="translate(194.89,507.2) rotate(-90.05) scale(0.755,1)" text-anchor="end" font-size="15.6">08.12</text>
<text transform="translate(209.66,507.2) rotate(-90.05) scale(0.755,1)" text-anchor="end" font-size="15.6">05.01</text>
<text transform="translate(224.43,507.2) rotate(-90.05) scale(0.755,1)" text-anchor="end" font-size="15.6">02.02</text>
<text transform="translate(239.20,507.2) rotate(-90.05) scale(0.755,1)" text-anchor="end" font-size="15.6">02.03</text>
<text transform="translate(253.97,507.2) rotate(-90.05) scale(0.755,1)" text-anchor="end" font-size="15.6">30.03</text>
<text transform="translate(268.74,507.2) rotate(-90.05) scale(0.755,1)" text-anchor="end" font-size="15.6">27.04</text>
<text transform="translate(283.51,507.2) rotate(-90.05) scale(0.755,1)" text-anchor="end" font-size="15.6">25.05</text>
<text transform="translate(298.28,507.2) rotate(-90.05) scale(0.755,1)" text-anchor="end" font-size="15.6">22.06</text>
<text transform="translate(313.05,507.2) rotate(-90.05) scale(0.755,1)" text-anchor="end" font-size="15.6">20.07</text>
<text transform="translate(327.82,507.2) rotate(-90.05) scale(0.755,1)" text-anchor="end" font-size="15.6">17.08</text>
<text transform="translate(342.58,507.2) rotate(-90.05) scale(0.755,1)" text-anchor="end" font-size="15.6">14.09</text>
<text transform="translate(357.35,507.2) rotate(-90.05) scale(0.755,1)" text-anchor="end" font-size="15.6">12.10</text>
<text transform="translate(372.12,507.2) rotate(-90.05) scale(0.755,1)" text-anchor="end" font-size="15.6">09.11</text>
<text transform="translate(386.89,507.2) rotate(-90.05) scale(0.755,1)" text-anchor="end" font-size="15.6">07.12</text>
<text transform="translate(401.66,507.2) rotate(-90.05) scale(0.755,1)" text-anchor="end" font-size="15.6">04.01</text>
<text transform="translate(416.43,507.2) rotate(-90.05) scale(0.755,1)" text-anchor="end" font-size="15.6">01.02</text>
<text transform="translate(431.20,507.2) rotate(-90.05) scale(0.755,1)" text-anchor="end" font-size="15.6">29.02</text>
<text transform="translate(445.97,507.2) rotate(-90.05) scale(0.755,1)" text-anchor="end" font-size="15.6">28.03</text>
<text transform="translate(460.74,507.2) rotate(-90.05) scale(0.755,1)" text-anchor="end" font-size="15.6">25.04</text>
<text transform="translate(475.51,507.2) rotate(-90.05) scale(0.755,1)" text-anchor="end" font-size="15.6">23.05</text>
<text transform="translate(490.28,507.2) rotate(-90.05) scale(0.755,1)" text-anchor="end" font-size="15.6">20.06</text>
<text transform="translate(505.05,507.2) rotate(-90.05) scale(0.755,1)" text-anchor="end" font-size="15.6">18.07</text>
<text transform="translate(519.82,507.2) rotate(-90.05) scale(0.755,1)" text-anchor="end" font-size="15.6">15.08</text>
<text transform="translate(534.58,507.2) rotate(-90.05) scale(0.755,1)" text-anchor="end" font-size="15.6">12.09</text>
<text transform="translate(549.35,507.2) rotate(-90.05) scale(0.755,1)" text-anchor="end" font-size="15.6">10.10</text>
<text transform="translate(564.12,507.2) rotate(-90.05) scale(0.755,1)" text-anchor="end" font-size="15.6">07.11</text>
<text transform="translate(578.89,507.2) rotate(-90.05) scale(0.755,1)" text-anchor="end" font-size="15.6">05.12</text>
<text transform="translate(593.66,507.2) rotate(-90.05) scale(0.755,1)" text-anchor="end" font-size="15.6">02.01</text>
<text transform="translate(608.43,507.2) rotate(-90.05) scale(0.755,1)" text-anchor="end" font-size="15.6">30.01</text>
<text transform="translate(623.20,507.2) rotate(-90.05) scale(0.755,1)" text-anchor="end" font-size="15.6">27.02</text>
<text transform="translate(637.97,507.2) rotate(-90.05) scale(0.755,1)" text-anchor="end" font-size="15.6">27.03</text>
<text transform="translate(652.74,507.2) rotate(-90.05) scale(0.755,1)" text-anchor="end" font-size="15.6">24.04</text>
<text transform="translate(667.51,507.2) rotate(-90.05) scale(0.755,1)" text-anchor="end" font-size="15.6">22.05</text>
<text transform="translate(682.28,507.2) rotate(-90.05) scale(0.755,1)" text-anchor="end" font-size="15.6">19.06</text>
<text transform="translate(697.05,507.2) rotate(-90.05) scale(0.755,1)" text-anchor="end" font-size="15.6">17.07</text>
<text transform="translate(711.82,507.2) rotate(-90.05) scale(0.755,1)" text-anchor="end" font-size="15.6">14.08</text>
<text transform="translate(726.58,507.2) rotate(-90.05) scale(0.755,1)" text-anchor="end" font-size="15.6">11.09</text>
<text transform="translate(741.35,507.2) rotate(-90.05) scale(0.755,1)" text-anchor="end" font-size="15.6">09.10</text>
<text transform="translate(756.12,507.2) rotate(-90.05) scale(0.755,1)" text-anchor="end" font-size="15.6">06.11</text>
<text transform="translate(770.89,507.2) rotate(-90.05) scale(0.755,1)" text-anchor="end" font-size="15.6">04.12</text>
<text transform="translate(785.66,507.2) rotate(-90.05) scale(0.755,1)" text-anchor="end" font-size="15.6">01.01</text>
<text transform="translate(800.43,507.2) rotate(-90.05) scale(0.755,1)" text-anchor="end" font-size="15.6">29.01</text>
<text transform="translate(815.20,507.2) rotate(-90.05) scale(0.755,1)" text-anchor="end" font-size="15.6">26.02</text>
</svg></body></html>
